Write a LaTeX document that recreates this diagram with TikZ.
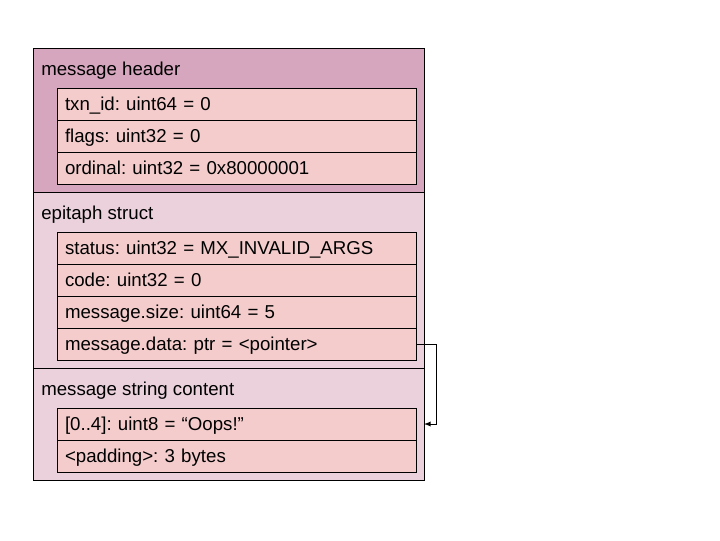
\documentclass[tikz,border=0pt]{standalone}
\usepackage{fontspec}
\setmainfont{Liberation Sans}
\frenchspacing
\usetikzlibrary{positioning,arrows}

\definecolor{hdrfill}{HTML}{D5A6BD}
\definecolor{secfill}{HTML}{EAD1DC}
\definecolor{rowfill}{HTML}{F4CCCC}

\tikzset{
  section/.style={draw, line width=0.75pt, anchor=north west, inner sep=0pt, outer sep=0pt,
                  minimum width=391*0.75pt},
  title/.style={anchor=base west, inner sep=0pt, font=\fontsize{14}{16}\selectfont},
  field/.style={draw, line width=0.75pt, fill=rowfill, inner sep=0pt, outer sep=0pt,
                minimum width=359*0.75pt, minimum height=32*0.75pt, text width=343*0.75pt,
                text height=11.5pt, text depth=2.5pt,
                align=left, font=\fontsize{14}{16}\selectfont}
}

\begin{document}
\begin{tikzpicture}[x=0.75pt, y=-0.75pt, node distance=0pt]
          \useasboundingbox (0,0) rectangle (720,540);
          % outer sections
          \node[section, fill=hdrfill, minimum height=144*0.75pt] (header) at (33,48) {};
          \node[section, fill=secfill, minimum height=176*0.75pt] (epitaph) at (33,192) {};
          \node[section, fill=secfill, minimum height=112*0.75pt] (strbox) at (33,368) {};
          \node[title] at (41,75) {message header};
          \node[title] at (41,219) {epitaph struct};
          \node[title] at (41,395) {message string content};
          % header fields
          \node[field, anchor=north west] (txn) at (57,88) {txn\_id: uint64 = 0};
          \node[field, below=of txn] (flags) {flags: uint32 = 0};
          \node[field, below=of flags] (ordinal) {ordinal: uint32 = 0x80000001};
          % epitaph fields
          \node[field, anchor=north west] (status) at (57,232) {status: uint32 = MX\_INVALID\_ARGS};
          \node[field, below=of status] (code) {code: uint32 = 0};
          \node[field, below=of code] (size) {message.size: uint64 = 5};
          \node[field, below=of size] (data) {message.data: ptr = <pointer>};
          % string content
          \node[field, anchor=north west] (oops) at (57,408) {[0..4]: uint8 = “Oops!”};
          \node[field, below=of oops] (padding) {<padding>: 3 bytes};
          % pointer
          \coordinate (target) at (oops.east -| strbox.east);
          \draw[-latex, line width=0.75pt] (data.east) -- ++(20,0) |- (target);
        \end{tikzpicture}
\end{document}
